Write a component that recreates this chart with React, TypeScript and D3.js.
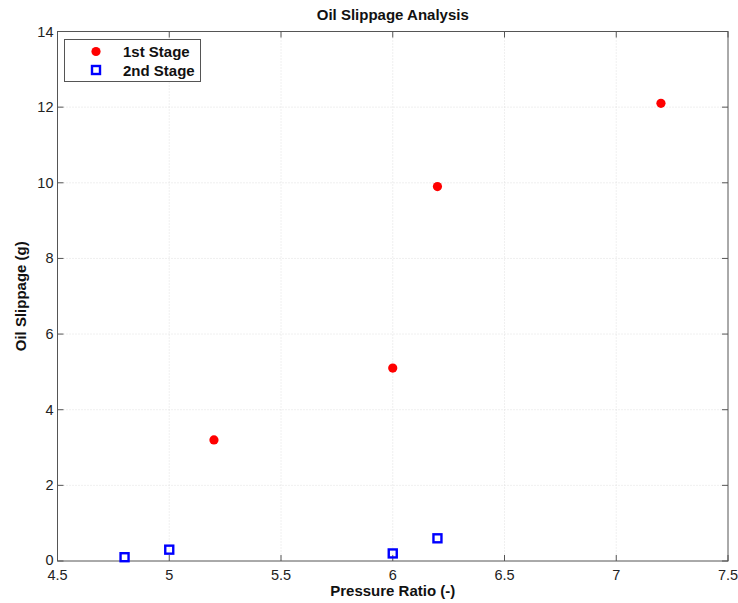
import React from "react";
import * as d3 from "d3";

const stage1X = [5.2, 6.0, 6.2, 7.2];
const stage1Y = [3.2, 5.1, 9.9, 12.1];
const stage2X = [4.8, 5.0, 6.0, 6.2];
const stage2Y = [0.1, 0.3, 0.2, 0.6];
const xTicks = [4.5, 5, 5.5, 6, 6.5, 7, 7.5];
const yTicks = [0, 2, 4, 6, 8, 10, 12, 14];
const seriesNames = ["1st Stage", "2nd Stage"];

export default function App() {
  const W = 738, H = 603;
  const L = 57.5, R = 728, T = 31.5, B = 561;
  const x = d3.scaleLinear().domain([4.5, 7.5]).range([L, R]);
  const y = d3.scaleLinear().domain([0, 14]).range([B, T]);
  const font = "'Liberation Sans', Arial, sans-serif";
  return (
    <svg width={W} height={H} style={{ position: "absolute", left: 0, top: 0, background: "#fff" }} fontFamily={font}>
      <rect x={0} y={0} width={W} height={H} fill="#fff" />
      {xTicks.slice(1, -1).map((t) => (
        <line key={"gx" + t} x1={x(t)} x2={x(t)} y1={T} y2={B} stroke="#d8d8d8" strokeWidth={0.8} strokeDasharray="1,2" />
      ))}
      {yTicks.slice(1, -1).map((t) => (
        <line key={"gy" + t} x1={L} x2={R} y1={y(t)} y2={y(t)} stroke="#d8d8d8" strokeWidth={0.8} strokeDasharray="1,2" />
      ))}
      {xTicks.map((t) => (
        <g key={"tx" + t}>
          <line x1={x(t)} x2={x(t)} y1={B} y2={B - 6} stroke="#555" />
          <line x1={x(t)} x2={x(t)} y1={T} y2={T + 6} stroke="#555" />
          <text x={x(t)} y={B + 19} textAnchor="middle" fontSize={14.5} fill="#222">{String(t)}</text>
        </g>
      ))}
      {yTicks.map((t) => (
        <g key={"ty" + t}>
          <line x1={L} x2={L + 6} y1={y(t)} y2={y(t)} stroke="#555" />
          <line x1={R} x2={R - 6} y1={y(t)} y2={y(t)} stroke="#555" />
          <text x={L - 4} y={y(t) + (t === 0 ? 4 : 5)} textAnchor="end" fontSize={14.5} fill="#222">{String(t)}</text>
        </g>
      ))}
      <rect x={L} y={T} width={R - L} height={B - T} fill="none" stroke="#555" strokeWidth={1} />
      {stage1X.map((v, i) => (
        <circle key={"a" + i} cx={x(v)} cy={y(stage1Y[i])} r={4.6} fill="#ff0000" />
      ))}
      {stage2X.map((v, i) => (
        <rect key={"b" + i} x={x(v) - 4} y={y(stage2Y[i]) - 4} width={8} height={8} fill="none" stroke="#0000ff" strokeWidth={2.4} />
      ))}
      <text x={(L + R) / 2} y={20} textAnchor="middle" fontSize={15} fontWeight="bold" fill="#111">Oil Slippage Analysis</text>
      <text x={(L + R) / 2} y={596} textAnchor="middle" fontSize={15} fontWeight="bold" fill="#111">Pressure Ratio (-)</text>
      <text transform={`translate(26,${(T + B) / 2}) rotate(-90)`} textAnchor="middle" fontSize={15} fontWeight="bold" fill="#111">Oil Slippage (g)</text>
      <rect x={64.5} y={39.5} width={136} height={42} fill="#fff" stroke="#555" strokeWidth={1} />
      <circle cx={96} cy={51.5} r={4.6} fill="#ff0000" />
      <text x={123} y={57} fontSize={15} fontWeight="bold" fill="#111">{seriesNames[0]}</text>
      <rect x={92} y={66} width={8} height={8} fill="none" stroke="#0000ff" strokeWidth={2.4} />
      <text x={123} y={75.5} fontSize={15} fontWeight="bold" fill="#111">{seriesNames[1]}</text>
    </svg>
  );
}
